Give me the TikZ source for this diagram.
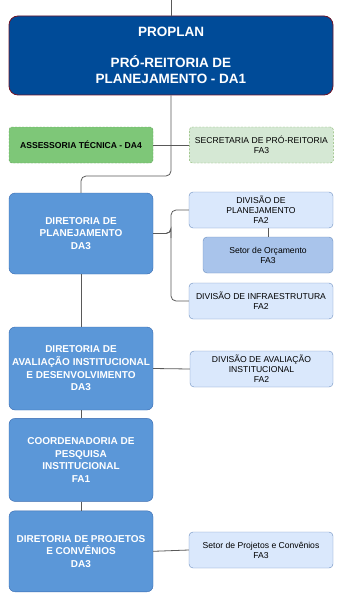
\documentclass[tikz,border=0pt]{standalone}
\usepackage{fontspec}
\setmainfont{Liberation Sans}
\usetikzlibrary{positioning, calc}

\definecolor{chiefblue}{RGB}{0,75,152}
\definecolor{chiefline}{RGB}{110,20,40}
\definecolor{dirblue}{RGB}{91,151,216}
\definecolor{dirline}{RGB}{55,105,175}
\definecolor{divfill}{HTML}{DAE8FC}
\definecolor{divline}{HTML}{6C8EBF}
\definecolor{secfill}{HTML}{A9C4EB}
\definecolor{staffgreen}{RGB}{126,199,120}
\definecolor{staffline}{RGB}{95,160,85}
\definecolor{secgreen}{HTML}{D5E8D4}
\definecolor{secline}{HTML}{82B366}

\begin{document}
\begin{tikzpicture}[
    x=1pt, y=-1pt,
    node distance=8pt and 36pt,
    chief/.style={rectangle, rounded corners=9pt, draw=chiefline, fill=chiefblue, line width=0.8pt, minimum width=324pt, minimum height=79pt, inner sep=0pt, align=center, text=white, font=\fontsize{13.5}{15.5}\selectfont\bfseries},
    dir_box/.style={rectangle, rounded corners=6pt, draw=dirline, fill=dirblue, minimum width=144pt, minimum height=82pt, inner sep=0pt, align=center, text=white, font=\fontsize{10}{12.7}\selectfont\bfseries},
    div_box/.style={rectangle, rounded corners=4pt, draw=divline, fill=divfill, minimum width=144pt, minimum height=36pt, inner sep=0pt, align=center, font=\fontsize{8.6}{10}\selectfont},
    staff_box/.style={rectangle, rounded corners=3pt, draw=staffline, dash pattern=on 2pt off 1.5pt, fill=staffgreen, minimum width=144pt, minimum height=36pt, inner sep=0pt, align=center, font=\fontsize{8.6}{10}\selectfont\bfseries},
    link/.style={draw=black!65, line width=0.8pt}
]
    \useasboundingbox (0,0) rectangle (343,599);

    % Define Nodes
    \coordinate (top) at (171,0);
    \node[chief] (proplan) at (171,55.5) {PROPLAN\\[15.5pt]PRÓ-REITORIA DE\\PLANEJAMENTO - DA1};

    \node[staff_box] (assess) at (81,145) {ASSESSORIA TÉCNICA - DA4};
    \node[staff_box, fill=secgreen, draw=secline, font=\fontsize{8.6}{10}\selectfont] (secr) [right=36pt of assess] {SECRETARIA DE PRÓ-REITORIA\\FA3};

    \node[dir_box, minimum height=81pt] (dpl) at (81,233.5) {DIRETORIA DE\\PLANEJAMENTO\\DA3};
    \node[div_box] (divpl) at (261,210) {DIVISÃO DE\\PLANEJAMENTO\\FA2};
    \node[div_box, fill=secfill, minimum width=130pt] (orc) at (268,255) {Setor de Orçamento\\FA3};
    \node[div_box] (divinf) at (261,301) {DIVISÃO DE INFRAESTRUTURA\\FA2};

    \node[dir_box, minimum height=83pt] (dav) at (81,368.5) {DIRETORIA DE\\AVALIAÇÃO INSTITUCIONAL\\E DESENVOLVIMENTO\\DA3};
    \node[div_box, minimum width=143pt] (divav) at (261.5,369) {DIVISÃO DE AVALIAÇÃO\\INSTITUCIONAL\\FA2};

    \node[dir_box, minimum height=83pt] (coord) [below=8pt of dav] {COORDENADORIA DE\\PESQUISA\\INSTITUCIONAL\\FA1};
    \node[dir_box, minimum height=81pt] (dproj) [below=9pt of coord] {DIRETORIA DE PROJETOS\\E CONVÊNIOS\\DA3};
    \node[div_box] (setproj) at (261,550) {Setor de Projetos e Convênios\\FA3};

    % Draw Edges
    \draw[link] (top) -- (proplan.north);
    \draw[link, rounded corners=5pt] (proplan.south) -- (171,176) -| (dpl.north);
    \draw[link] (assess.east) -- (secr.west);
    \draw[link, rounded corners=5pt] (dpl.east) -| (171,233) |- (divpl.west);
    \draw[link, rounded corners=5pt] (dpl.east) -| (171,233) |- (divinf.west);
    \draw[link] (divpl.south -| orc.north) -- (orc.north);
    \draw[link] (dpl.south) -- (dav.north);
    \draw[link] (dav.east) -- (divav.west);
    \draw[link] (dav.south) -- (coord.north);
    \draw[link] (coord.south) -- (dproj.north);
    \draw[link] (dproj.east) -- (setproj.west);
\end{tikzpicture}
\end{document}
